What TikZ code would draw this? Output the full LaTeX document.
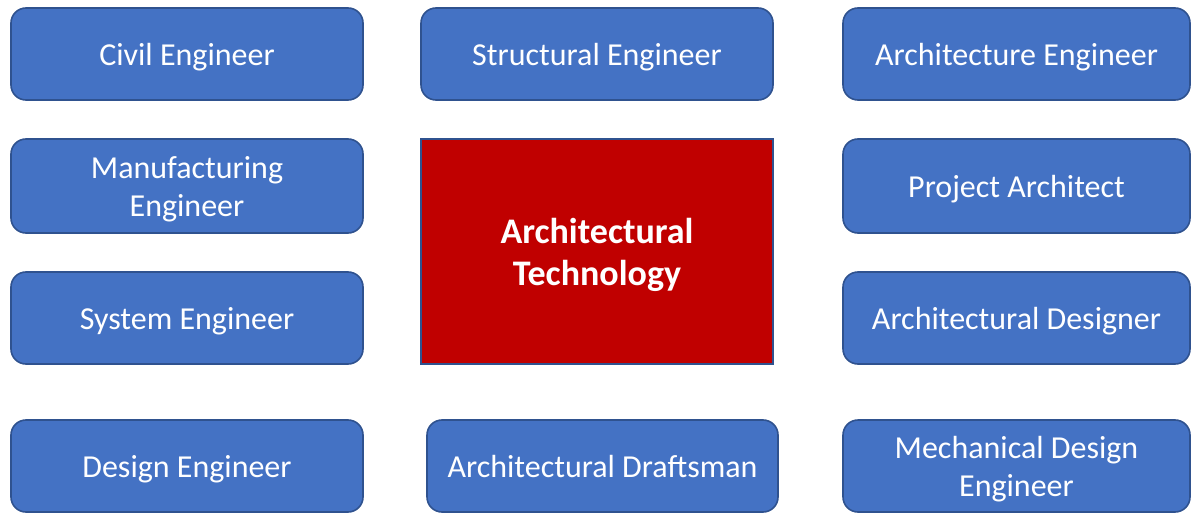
\documentclass[tikz,border=0pt]{standalone}
\usepackage{fontspec}
\setmainfont{Carlito}
\definecolor{boxblue}{HTML}{4472C4}
\definecolor{edgeblue}{HTML}{2F528F}
\definecolor{centerred}{HTML}{C00000}
\begin{document}
\begin{tikzpicture}[x=1pt,y=-1pt,
  role/.style={draw=edgeblue, line width=1.6pt, fill=boxblue, rounded corners=15pt,
    text=white, align=center, inner sep=0pt, minimum width=352pt, minimum height=92pt,
    text depth=0pt, font=\fontsize{32}{38}\selectfont},
  core/.style={draw=edgeblue, line width=1.6pt, fill=centerred,
    text=white, align=center, inner sep=0pt, minimum width=352pt, minimum height=225pt,
    text depth=0pt, font=\fontsize{36}{42}\selectfont\bfseries}]
\useasboundingbox (0,0) rectangle (1191,513);
\node[role] (civil) at (187,54) {Civil Engineer};
\node[role] (structural) at (597,54) {Structural Engineer};
\node[role, minimum width=347pt] (archeng) at (1016.5,54) {Architecture Engineer};
\node[role, minimum height=94pt] (manuf) at (187,186) {Manufacturing\\Engineer};
\node[role, minimum width=347pt, minimum height=94pt] (projarch) at (1016.5,186) {Project Architect};
\node[core] (center) at (597,251.5) {Architectural\\Technology};
\node[role] (system) at (187,318) {System Engineer};
\node[role, minimum width=347pt] (archdes) at (1016.5,318) {Architectural Designer};
\node[role] (design) at (187,466) {Design Engineer};
\node[role, minimum width=351pt] (draftsman) at (602.5,466) {Architectural Draftsman};
\node[role, minimum width=347pt] (mech) at (1016.5,466) {Mechanical Design\\Engineer};
\end{tikzpicture}
\end{document}
